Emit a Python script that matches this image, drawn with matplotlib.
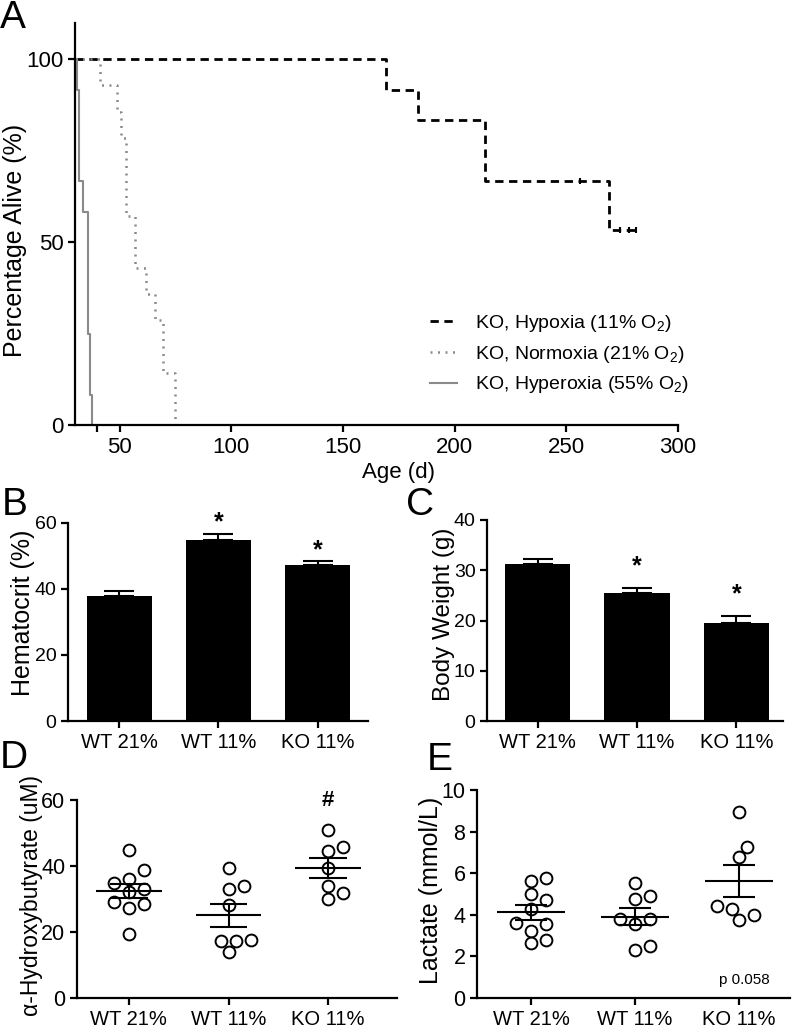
import numpy as np
import matplotlib
matplotlib.use('Agg')
from matplotlib import pyplot as plt
from matplotlib import rcParams

rcParams['font.family'] = ['Liberation Sans', 'DejaVu Sans']
rcParams['mathtext.default'] = 'regular'
rcParams['axes.linewidth'] = 1.6
rcParams['xtick.major.width'] = 1.6
rcParams['ytick.major.width'] = 1.6
rcParams['xtick.minor.width'] = 1.6
rcParams['xtick.major.size'] = 4.8
rcParams['ytick.major.size'] = 4.8
rcParams['xtick.minor.size'] = 4.8

# ---- panel A: survival (age in days, % alive)
hypoxia_t = [30, 169.3, 183.7, 213.5, 269.3, 281]
hypoxia_s = [100, 91.7, 83.3, 66.7, 53.3, 53.3]
hypoxia_cens_t = [256, 274, 278, 281]
hypoxia_cens_s = [66.7, 53.3, 53.3, 53.3]
normoxia_t = [30, 41.2, 48.6, 50.5, 52.8, 56.8, 61.7, 65.7, 69.3, 74.6]
normoxia_s = [100, 92.9, 85.7, 78.6, 57.1, 42.9, 35.7, 28.6, 14.3, 0]
hyperoxia_t = [30, 30.8, 31.8, 33.7, 35.7, 36.7, 37.7]
hyperoxia_s = [100, 91.7, 66.7, 58.3, 25, 8.3, 0]

groups = ['WT 21%', 'WT 11%', 'KO 11%']

# ---- panel B/C: bars (mean, sem)
hct_mean = [37.7, 54.9, 47.3]
hct_sem = [1.7, 1.8, 1.0]
hct_star = [False, True, True]
bw_mean = [31.3, 25.4, 19.6]
bw_sem = [1.0, 1.0, 1.2]
bw_star = [False, True, True]

# ---- panel D: alpha-hydroxybutyrate (uM)
ahb_wt21 = [44.7, 38.8, 34.8, 36.0, 33.1, 32.1, 28.5, 29.2, 27.2, 19.5]
ahb_wt11 = [39.3, 33.0, 34.0, 28.2, 17.3, 17.3, 17.6, 13.9]
ahb_ko11 = [50.9, 45.9, 44.4, 39.3, 34.0, 31.8, 30.0]

# ---- panel E: lactate (mmol/L)
lac_wt21 = [5.78, 5.63, 5.02, 4.70, 4.30, 3.61, 3.55, 3.23, 2.65, 2.78]
lac_wt11 = [5.55, 4.75, 4.91, 3.82, 3.82, 3.55, 2.30, 2.50]
lac_ko11 = [8.92, 7.27, 6.76, 4.30, 4.43, 3.74, 3.98]

W, H = 793, 1034
fig = plt.figure(figsize=(W / 100, H / 100), dpi=100)


def px_axes(l, t, r, b):
    ax = fig.add_axes([l / W, 1 - b / H, (r - l) / W, (b - t) / H])
    ax.spines['top'].set_visible(False)
    ax.spines['right'].set_visible(False)
    return ax


def label_at(ax, text, x, y, size=17):
    # x = pixel of the label's descender side, y = pixel of its centre
    ax.set_ylabel(text, fontsize=size)
    inv = ax.transAxes.inverted()
    ax.yaxis.set_label_coords(*inv.transform((x, H - y)))


# ================= A
axA = px_axes(75, 22.7, 678, 425)
axA.step(hypoxia_t, hypoxia_s, where='post', color='black', lw=2,
         dashes=(3, 2), label='KO, Hypoxia (11% O$_2$)')
axA.plot(hypoxia_cens_t, hypoxia_cens_s, ls='none', marker='|', ms=5,
         mew=1.5, color='black')
axA.step(normoxia_t, normoxia_s, where='post', color='#8a8a8a', lw=1.8,
         dashes=(0.8, 2.2), label='KO, Normoxia (21% O$_2$)')
axA.step(hyperoxia_t, hyperoxia_s, where='post', color='#8a8a8a', lw=1.5,
         label='KO, Hyperoxia (55% O$_2$)')
axA.set_xlim(30, 300)
axA.set_ylim(0, 110)
axA.set_xticks([50, 100, 150, 200, 250, 300])
axA.set_xticks([40], minor=True)
axA.set_yticks([0, 50, 100])
axA.tick_params(labelsize=16)
axA.set_xlabel('Age (d)', fontsize=16)
axA.xaxis.set_label_coords(*axA.transAxes.inverted().transform((398, H - 462)))
label_at(axA, 'Percentage Alive (%)', 27, 240, size=18)
axA.legend(loc='upper left', bbox_to_anchor=(430 / W, 1 - 313 / H),
           bbox_transform=fig.transFigure, frameon=False, fontsize=14,
           handlelength=1.4, handletextpad=0.9, labelspacing=0.5,
           borderpad=0, borderaxespad=0)


# ================= B, C
def bar_panel(ax, means, sems, stars, ymax, step, star_off):
    x = np.arange(len(means))
    ax.bar(x, means, width=0.66, color='black')
    ax.errorbar(x, means, yerr=[np.zeros(len(sems)), sems], fmt='none',
                ecolor='black', elinewidth=1.5, capsize=11, capthick=1.5)
    for xi, m, s, st in zip(x, means, sems, stars):
        if st:
            ax.annotate('*', (xi, m + s), xytext=(0, star_off),
                        textcoords='offset pixels', ha='center', va='center',
                        fontsize=18, fontweight='bold', annotation_clip=False)
    ax.set_ylim(0, ymax)
    ax.set_yticks(np.arange(0, ymax + 1, step))
    ax.set_xticks(x)
    ax.set_xticklabels(groups)
    ax.tick_params(axis='x', labelsize=14.5)
    ax.tick_params(axis='y', labelsize=14)


axB = px_axes(68, 522.7, 368, 721)
bar_panel(axB, hct_mean, hct_sem, hct_star, 60, 20, 11)
axB.set_xlim(-0.52, 2.51)
label_at(axB, 'Hematocrit (%)', 35, 613, size=18)

axC = px_axes(487, 520, 783, 721)
bar_panel(axC, bw_mean, bw_sem, bw_star, 40, 10, 22)
axC.set_xlim(-0.51, 2.47)
label_at(axC, 'Body Weight (g)', 455, 614, size=17.5)


# ================= D, E
def swarm(ax, xc, vals, diam=12.0, step=7.5):
    tr = ax.transData
    ys = [tr.transform((0, v))[1] for v in vals]
    xpx = tr.transform((1, 0))[0] - tr.transform((0, 0))[0]
    placed = []
    offs = np.zeros(len(vals))
    cands = [0.0] + [sg * j * step for j in range(1, 12) for sg in (1, -1)]
    for i in np.argsort(vals):
        for c in cands:
            if all(np.hypot(c - px, ys[i] - py) >= diam for px, py in placed):
                break
        placed.append((c, ys[i]))
        offs[i] = c
    return xc + offs / xpx


def dot_panel(ax, data, ymax, step, half=0.33, cap=0.17):
    ax.set_ylim(0, ymax)
    ax.set_yticks(np.arange(0, ymax + 0.01, step))
    ax.set_xticks(range(len(data)))
    ax.set_xticklabels(groups)
    ax.tick_params(axis='x', labelsize=14.5)
    ax.tick_params(axis='y', labelsize=15.5)
    for i, vals in enumerate(data):
        vals = np.array(vals)
        xs = swarm(ax, i, vals)
        ax.plot(xs, vals, ls='none', marker='o', ms=8.5, mfc='white',
                mec='black', mew=1.4, zorder=3)
        m = vals.mean()
        s = vals.std(ddof=1) / np.sqrt(len(vals))
        ax.hlines(m, i - half, i + half, color='black', lw=1.5, zorder=4)
        ax.vlines(i, m - s, m + s, color='black', lw=1.5, zorder=4)
        ax.hlines([m - s, m + s], i - cap, i + cap, color='black', lw=1.5,
                  zorder=4)


axD = px_axes(77, 800, 397, 998)
axD.set_xlim(-0.52, 2.69)
dot_panel(axD, [ahb_wt21, ahb_wt11, ahb_ko11], 60, 20, cap=0.19)
axD.text(2, 1.0, '#', transform=axD.get_xaxis_transform(), ha='center',
         va='center', fontsize=16, fontweight='bold')
label_at(axD, '\u03b1-Hydroxybutyrate (uM)', 43, 896, size=16.5)

axE = px_axes(477, 790, 790, 998)
axE.set_xlim(-0.52, 2.49)
dot_panel(axE, [lac_wt21, lac_wt11, lac_ko11], 10, 2, cap=0.15)
axE.text(2.05, 0.85, 'p 0.058', ha='center', va='center', fontsize=11)
label_at(axE, 'Lactate (mmol/L)', 443, 890, size=18)

# panel letters
for letter, (lx, ly) in zip('ABCDE', [(0, 0), (2, 487), (406, 487),
                                      (0, 740), (427, 742)]):
    fig.text(lx / W, 1 - ly / H, letter, fontsize=28, ha='left', va='top')

fig.savefig('out.png', dpi=100)
